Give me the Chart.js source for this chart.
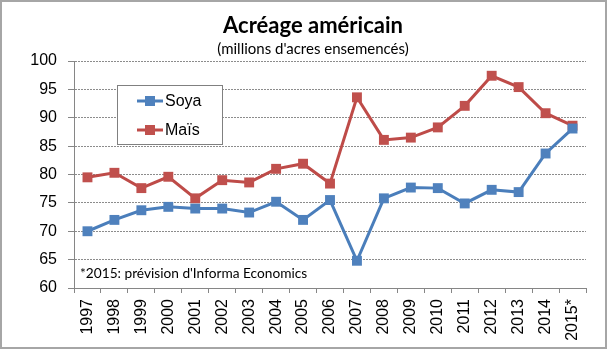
<!DOCTYPE html>
<html>
<head>
<meta charset="utf-8">
<script src="https://cdn.jsdelivr.net/npm/chart.js@4.4.1/dist/chart.umd.min.js"></script>
<style>
  html, body { margin: 0; padding: 0; background: #fff; }
  #wrap { position: relative; width: 608px; height: 351px; }
</style>
</head>
<body>
<div id="wrap"><canvas id="chart" width="608" height="351"></canvas></div>
<script>
"use strict";

///////////////////////////////////////
// Data

const years = ["1997", "1998", "1999", "2000", "2001", "2002", "2003", "2004", "2005", "2006",
  "2007", "2008", "2009", "2010", "2011", "2012", "2013", "2014", "2015*"];

const soya = [70.0, 72.0, 73.7, 74.3, 74.0, 74.0, 73.3, 75.2, 72.0, 75.5,
  64.8, 75.8, 77.7, 77.6, 74.9, 77.3, 76.9, 83.7, 88.1];

const mais = [79.5, 80.3, 77.6, 79.6, 75.8, 79.0, 78.6, 81.0, 81.9, 78.4,
  93.6, 86.1, 86.5, 88.3, 92.1, 97.4, 95.4, 90.8, 88.6];

const yTicks = [60, 65, 70, 75, 80, 85, 90, 95, 100];

const titleText = "Acréage américain";
const subtitleText = "(millions d'acres ensemencés)";
const noteText = "*2015: prévision d'Informa Economics";

///////////////////////////////////////
// Colors

const colors = {
  soya: { line: "#4A7EBB", fill: "#4F81BD" },
  mais: { line: "#BE4B48", fill: "#C0504D" },
};

///////////////////////////////////////
// Plugins (frame, title shift, legend box, note)

const framePlugin = {
  id: "frame",
  afterLayout(chart) {
    // Excel centres the titles a little right of the canvas middle
    chart.boxes.forEach((box) => {
      if (box.position === "top" && box.fullSize) box.left += 22;
    });
  },
  beforeDraw(chart) {
    const ctx = chart.ctx;
    ctx.save();
    ctx.fillStyle = "#fff";
    ctx.fillRect(0, 0, chart.width, chart.height);
    ctx.strokeStyle = "#a6a6a6";
    ctx.lineWidth = 2;
    ctx.strokeRect(1, 1, chart.width - 3, chart.height - 4);
    ctx.restore();
  },
};

const boxLegendPlugin = {
  id: "boxLegend",
  afterDraw(chart) {
    const ctx = chart.ctx;
    const area = chart.chartArea;
    const x = area.left + 43;
    const y = area.top + 24;
    const w = 105;
    const h = 59;

    ctx.save();
    ctx.fillStyle = "#fff";
    ctx.fillRect(x, y, w, h);
    ctx.strokeStyle = "#808080";
    ctx.lineWidth = 1;
    ctx.strokeRect(x + 0.5, y + 0.5, w, h);

    ctx.font = "16px 'Liberation Sans'";
    ctx.textBaseline = "middle";
    chart.data.datasets.forEach((ds, i) => {
      const cy = y + 16 + i * 29;
      ctx.strokeStyle = ds.borderColor;
      ctx.lineWidth = 3;
      ctx.beginPath();
      ctx.moveTo(x + 20, cy);
      ctx.lineTo(x + 46, cy);
      ctx.stroke();
      ctx.fillStyle = ds.pointBackgroundColor;
      ctx.fillRect(x + 28, cy - 5, 10, 10);
      ctx.fillStyle = "#000";
      ctx.fillText(ds.label, x + 48, cy + 1);
    });

    ctx.font = "13.7px Lato";
    ctx.fillStyle = "#000";
    ctx.textBaseline = "middle";
    ctx.fillText(noteText, area.left + 6, area.bottom - 14);
    ctx.restore();
  },
};

///////////////////////////////////////
// Chart config

const data = {
  labels: years,
  datasets: [
    {
      label: "Soya",
      data: soya,
      borderColor: colors.soya.line,
      backgroundColor: colors.soya.fill,
      pointBackgroundColor: colors.soya.fill,
      pointBorderColor: colors.soya.fill,
    },
    {
      label: "Maïs",
      data: mais,
      borderColor: colors.mais.line,
      backgroundColor: colors.mais.fill,
      pointBackgroundColor: colors.mais.fill,
      pointBorderColor: colors.mais.fill,
    },
  ],
};

const config = {
  type: "line",
  data: data,
  options: {
    responsive: false,
    animation: false,
    layout: { padding: { top: 0, left: 18, right: 22, bottom: 0 } },
    elements: {
      line: { borderWidth: 3, tension: 0 },
      point: { pointStyle: "rect", radius: 7, borderWidth: 0 },
    },
    plugins: {
      legend: { display: false },
      tooltip: { enabled: false },
      title: {
        display: true,
        text: titleText,
        color: "#000",
        font: { family: "Lato", size: 22, weight: "bold", lineHeight: 1.2 },
        padding: { top: 13, bottom: 1 },
      },
      subtitle: {
        display: true,
        text: subtitleText,
        color: "#000",
        font: { family: "Lato", size: 15, lineHeight: 1.2 },
        padding: { top: 0, bottom: 2.6 },
      },
    },
    scales: {
      x: {
        offset: true,
        afterFit(scale) { scale.height = 63; },
        grid: {
          offset: true,
          drawOnChartArea: false,
          drawTicks: true,
          tickLength: 5,
          color: "#868686",
        },
        border: { color: "#868686" },
        ticks: {
          color: "#000",
          font: { family: "Liberation Sans", size: 16 },
          minRotation: 90,
          maxRotation: 90,
          autoSkip: false,
          padding: 6,
        },
      },
      y: {
        min: 60,
        max: 100,
        afterFit(scale) { scale.width = 56; },
        afterBuildTicks(scale) { scale.ticks = yTicks.map((v) => ({ value: v })); },
        grid: {
          color: "#8c8c8c",
          tickLength: 6,
          tickColor: "#868686",
        },
        // in v4 border.dash sets the dash of the grid lines (dotted)
        border: { color: "#868686", dash: [2, 1] },
        ticks: {
          color: "#000",
          font: { family: "Liberation Sans", size: 16 },
          padding: 11,
        },
      },
    },
  },
  plugins: [framePlugin, boxLegendPlugin],
};

///////////////////////////////////////
// Chart display

const chartEl = document.getElementById("chart");
const chart = new Chart(chartEl, config);
</script>
</body>
</html>
